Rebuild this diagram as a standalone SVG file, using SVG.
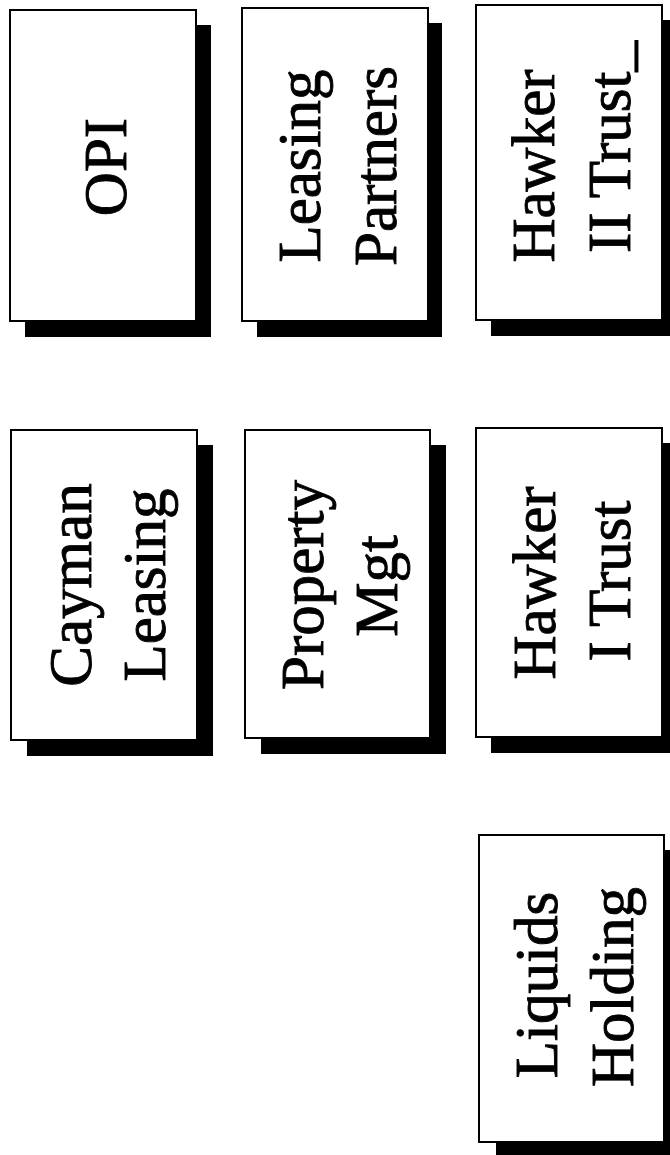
<svg xmlns="http://www.w3.org/2000/svg" width="670" height="1155" viewBox="0 0 670 1155">
  <style>
    .shadow { fill: #000; }
    .box { fill: #fff; stroke: #000; stroke-width: 2; }
    .t { font-family: "Liberation Serif", "Times New Roman", serif; font-size: 61px; fill: #000; stroke: #000; stroke-width: 0.9; text-anchor: middle; }
  </style>
  <rect x="0" y="0" width="670" height="1155" fill="#fff"/>
  <g id="connectors"></g>

  <g id="node-opi">
    <rect class="shadow" x="25" y="25" width="186" height="312"/>
    <rect class="box" x="10" y="10" width="186" height="311"/>
    <text class="t" transform="translate(126,167) rotate(-90)">OPI</text>
  </g>

  <g id="node-leasing-partners">
    <rect class="shadow" x="257" y="23" width="185" height="314"/>
    <rect class="box" x="242" y="8" width="186" height="313"/>
    <text class="t" transform="translate(320,166) rotate(-90)">Leasing</text>
    <text class="t" transform="translate(396,166) rotate(-90)">Partners</text>
  </g>

  <g id="node-hawker-ii-trust">
    <rect class="shadow" x="491" y="20" width="186" height="316"/>
    <rect class="box" x="476" y="5" width="186" height="315"/>
    <text class="t" transform="translate(554,166) rotate(-90)">Hawker</text>
    <text class="t" transform="translate(630,147) rotate(-90)">II Trust_</text>
  </g>

  <g id="node-cayman-leasing">
    <rect class="shadow" x="27" y="445" width="186" height="311"/>
    <rect class="box" x="11" y="430" width="186" height="310"/>
    <text class="t" transform="translate(91,585) rotate(-90)">Cayman</text>
    <text class="t" transform="translate(165,585) rotate(-90)">Leasing</text>
  </g>

  <g id="node-property-mgt">
    <rect class="shadow" x="261" y="445" width="185" height="309"/>
    <rect class="box" x="245" y="430" width="185" height="308"/>
    <text class="t" transform="translate(323,585) rotate(-90)">Property</text>
    <text class="t" transform="translate(397,586) rotate(-90)">Mgt</text>
  </g>

  <g id="node-hawker-i-trust">
    <rect class="shadow" x="491" y="443" width="186" height="310"/>
    <rect class="box" x="476" y="428" width="186" height="309"/>
    <text class="t" transform="translate(555,583) rotate(-90)">Hawker</text>
    <text class="t" transform="translate(630,581) rotate(-90)">I Trust</text>
  </g>

  <g id="node-liquids-holding">
    <rect class="shadow" x="496" y="850" width="185" height="310"/>
    <rect class="box" x="479" y="835" width="185" height="307"/>
    <text class="t" transform="translate(557,985) rotate(-90)">Liquids</text>
    <text class="t" transform="translate(633,987) rotate(-90)">Holding</text>
  </g>
</svg>
